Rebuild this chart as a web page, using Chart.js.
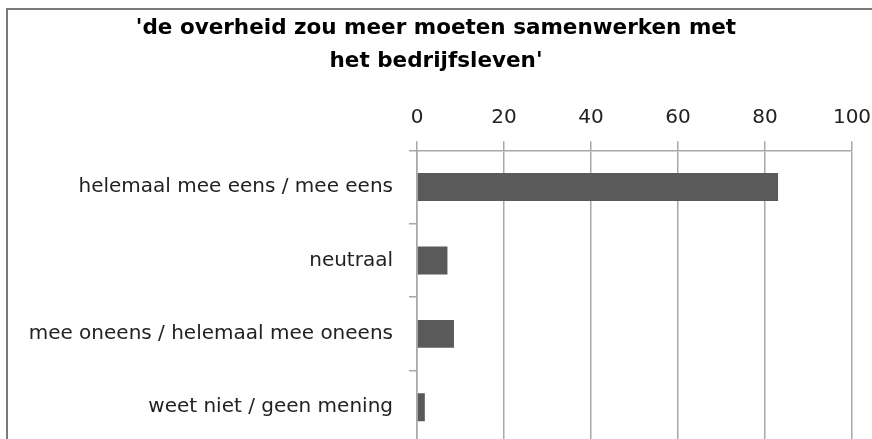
<!DOCTYPE html>
<html lang="nl">
<head>
    <meta charset="UTF-8">
    <title>de overheid zou meer moeten samenwerken met het bedrijfsleven</title>
    <script src="https://cdn.jsdelivr.net/npm/chart.js"></script>
    <style>
        html, body {
            margin: 0;
            padding: 0;
            background: #fff;
            overflow: hidden;
        }
        .lijn {
            position: absolute;
            background: #7a7a7a;
        }
        #lijn-boven { left: 6px; top: 8px; width: 866px; height: 2px; }
        #lijn-links { left: 6px; top: 8px; width: 2px; height: 431px; }
        #chart-container {
            position: absolute;
            left: 0;
            top: 0;
            width: 872px;
            height: 444px;
        }
    </style>
</head>
<body>
<div id="chart-container">
    <canvas id="barChart" width="872" height="444"></canvas>
</div>
<div class="lijn" id="lijn-boven"></div>
<div class="lijn" id="lijn-links"></div>

<script>
    const categorieen = [
        'helemaal mee eens / mee eens',
        'neutraal',
        'mee oneens / helemaal mee oneens',
        'weet niet / geen mening'
    ];
    const percentages = [83, 7, 8.5, 1.8];
    const titelRegels = ["'de overheid zou meer moeten samenwerken met", "het bedrijfsleven'"];

    const ctx = document.getElementById('barChart').getContext('2d');
    new Chart(ctx, {
        type: 'bar',
        data: {
            labels: categorieen,
            datasets: [{
                data: percentages,
                backgroundColor: '#5a5a5a',
                borderWidth: 0,
                barPercentage: 0.38,
                categoryPercentage: 1
            }]
        },
        options: {
            indexAxis: 'y',
            responsive: false,
            animation: false,
            layout: { padding: { top: 12, left: 20, right: 20, bottom: 0 } },
            plugins: {
                legend: { display: false },
                tooltip: { enabled: false },
                title: {
                    display: true,
                    text: titelRegels,
                    color: '#000',
                    font: { family: 'DejaVu Sans', size: 21.5, weight: 'bold', lineHeight: 1.52 },
                    padding: { top: 0, bottom: 0 }
                }
            },
            scales: {
                x: {
                    position: 'top',
                    min: 0,
                    max: 100,
                    ticks: {
                        stepSize: 20,
                        color: '#222',
                        font: { family: 'DejaVu Sans', size: 20 },
                        padding: 12
                    },
                    grid: {
                        color: '#a8a8a8',
                        lineWidth: 1.5,
                        tickLength: 9
                    },
                    border: { color: '#a8a8a8', width: 1.5 },
                    afterFit: function (scale) {
                        scale.height = 73;
                        scale.paddingLeft = 0;
                        scale.paddingRight = 0;
                    }
                },
                y: {
                    ticks: {
                        color: '#222',
                        font: { family: 'DejaVu Sans', size: 20 },
                        padding: 16
                    },
                    grid: {
                        drawOnChartArea: false,
                        color: '#a8a8a8',
                        lineWidth: 1.5,
                        tickLength: 8,
                        offset: true
                    },
                    border: { color: '#a8a8a8', width: 1.5 },
                    afterFit: function (scale) {
                        scale.width = 397;
                        scale.paddingTop = 0;
                        scale.paddingBottom = 0;
                    }
                }
            }
        }
    });
</script>
</body>
</html>
